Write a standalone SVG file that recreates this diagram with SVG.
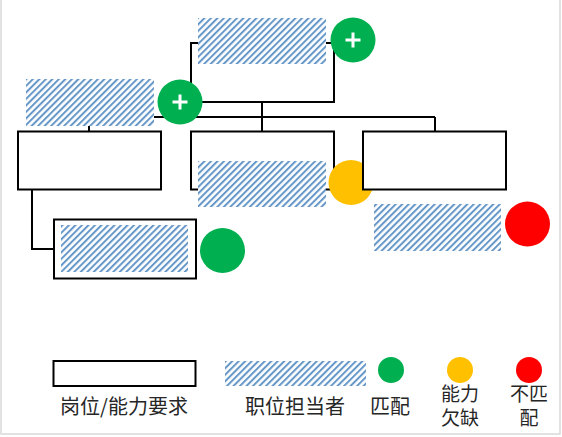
<svg xmlns="http://www.w3.org/2000/svg" width="562" height="437" viewBox="0 0 562 437">
<defs>
<pattern id="hatch" patternUnits="userSpaceOnUse" width="4.6" height="4.6" patternTransform="rotate(45)">
<rect width="4.6" height="4.6" fill="#ffffff"/>
<rect width="2" height="4.6" fill="#6597c8"/>
</pattern>
</defs>
<style>
.box{fill:#ffffff;stroke:#000000;stroke-width:2}
.hatch{fill:url(#hatch)}
.line{fill:none;stroke:#000000;stroke-width:2}
.g{fill:#00B050}
.o{fill:#FFC000}
.r{fill:#FF0000}
.plus{stroke:#ffffff;stroke-width:3;fill:none}
.t{font-family:"Noto Sans CJK SC","Noto Sans",sans-serif;font-size:20px;fill:#262626;text-anchor:middle}
.t2{font-family:"Noto Sans CJK SC","Noto Sans",sans-serif;font-size:19px;fill:#262626;text-anchor:middle}
</style>
<rect x="0" y="0" width="562" height="437" fill="#ffffff"/>
<path d="M1,0 V434 H560 V0" fill="none" stroke="#d9d9d9" stroke-width="1.5"/>

<g id="connectors">
<path class="line" d="M262,102 V131"/>
<path class="line" d="M89,117 H435"/>
<path class="line" d="M89,117 V131"/>
<path class="line" d="M435,117 V131"/>
<path class="line" d="M32,190 V249 H54"/>
</g>

<g id="top-node">
<rect class="box" x="191" y="43" width="143" height="59"/>
<rect class="hatch" x="198" y="18" width="128" height="46"/>
<circle class="g" cx="353" cy="40" r="22.5"/>
<path class="plus" d="M345.5,40 H360.5 M353,32.5 V47.5"/>
</g>

<g id="extra-holder">
<rect class="hatch" x="26" y="79" width="128" height="47"/>
<circle class="g" cx="180" cy="102" r="22.5"/>
<path class="plus" d="M172.5,102 H187.5 M180,94.5 V109.5"/>
</g>

<g id="child-left">
<rect class="box" x="18" y="131.5" width="143" height="58"/>
</g>

<g id="child-center">
<rect class="box" x="191" y="131.5" width="143" height="58"/>
<rect class="hatch" x="198" y="161" width="128" height="46"/>
<circle class="o" cx="351" cy="182.5" r="22.5"/>
</g>

<g id="child-right">
<rect class="box" x="363" y="131.5" width="143" height="58"/>
<rect class="hatch" x="374" y="204" width="127" height="47"/>
<circle class="r" cx="527.5" cy="224" r="22.5"/>
</g>

<g id="grandchild">
<rect class="box" x="54" y="219.5" width="142" height="59"/>
<rect class="hatch" x="61" y="225" width="127" height="47"/>
<circle class="g" cx="222.5" cy="250.5" r="22.5"/>
</g>

<g id="legend">
<rect class="box" x="53.5" y="361" width="142" height="25"/>
<text class="t" x="124" y="414">岗位/能力要求</text>
<rect class="hatch" x="225" y="361" width="141" height="25"/>
<text class="t" x="295" y="414">职位担当者</text>
<circle class="g" cx="391" cy="370" r="13"/>
<text class="t" x="390" y="414">匹配</text>
<circle class="o" cx="460" cy="370" r="13"/>
<text class="t2" x="460" y="401">能力<tspan x="460" dy="24">欠缺</tspan></text>
<circle class="r" cx="529" cy="370" r="13"/>
<text class="t2" x="529" y="401">不匹<tspan x="529" dy="24">配</tspan></text>
</g>
</svg>
